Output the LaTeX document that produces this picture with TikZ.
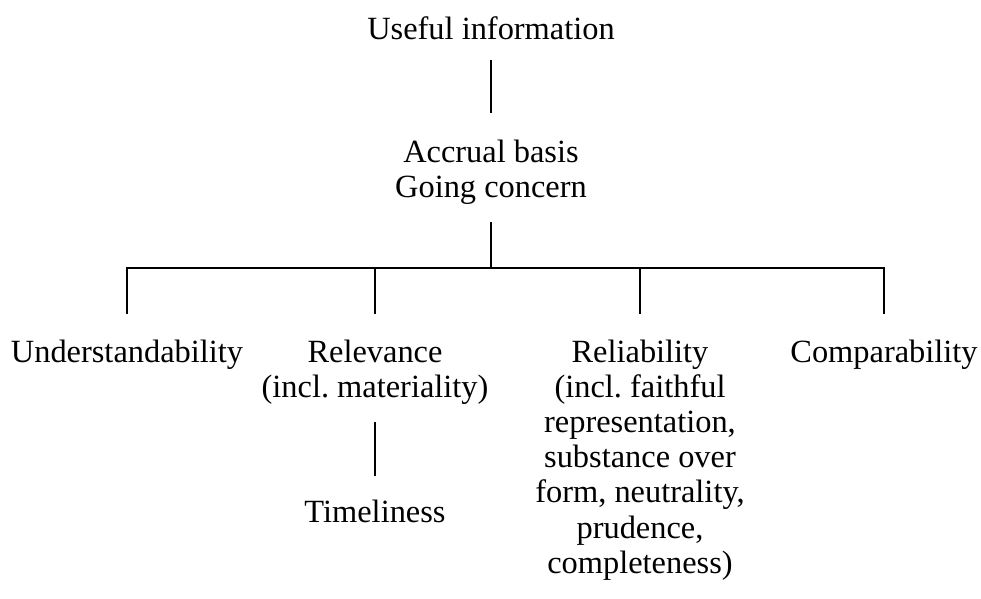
\documentclass[tikz,border=0pt]{standalone}
\usepackage{fontspec}
\setmainfont{Liberation Serif}
\begin{document}
\frenchspacing
\begin{tikzpicture}[x=0.5pt,y=-0.5pt,
  lbl/.style={anchor=north,inner sep=0pt,outer sep=0pt,align=center,
    font=\fontsize{16.2}{17.6}\selectfont\frenchspacing},
  conn/.style={line width=0.8pt}]
\useasboundingbox (0,0) rectangle (981,599);
\node[lbl] (u) at (491,14.5) {\strut Useful information\strut};
\node[lbl] (ag) at (491,137.5) {\strut Accrual basis\\Going concern\strut};
\coordinate (j) at (491,268);
\node[lbl] (und) at (127,337.5) {\strut Understandability\strut};
\node[lbl] (rel) at (375,337.5) {\strut Relevance\\(incl. materiality)\strut};
\node[lbl] (rlb) at (640,337.5) {\strut Reliability\\(incl. faithful\\representation,\\substance over\\form, neutrality,\\prudence,\\completeness)\strut};
\node[lbl] (cmp) at (884,337.5) {\strut Comparability\strut};
\node[lbl] (tim) at (375,497.5) {\strut Timeliness\strut};
\draw[conn,shorten <=5.25pt,shorten >=12.25pt] (u.south) -- (ag.north);
\draw[conn,shorten <=7.25pt] (ag.south) -- (j);
\draw[conn,shorten >=11.75pt] (j) -| (und.north);
\draw[conn,shorten >=11.75pt] (j) -| (rel.north);
\draw[conn,shorten >=11.75pt] (j) -| (rlb.north);
\draw[conn,shorten >=11.75pt] (j) -| (cmp.north);
\draw[conn,shorten <=7.25pt,shorten >=10.75pt] (rel.south) -- (tim.north);
\end{tikzpicture}
\end{document}
